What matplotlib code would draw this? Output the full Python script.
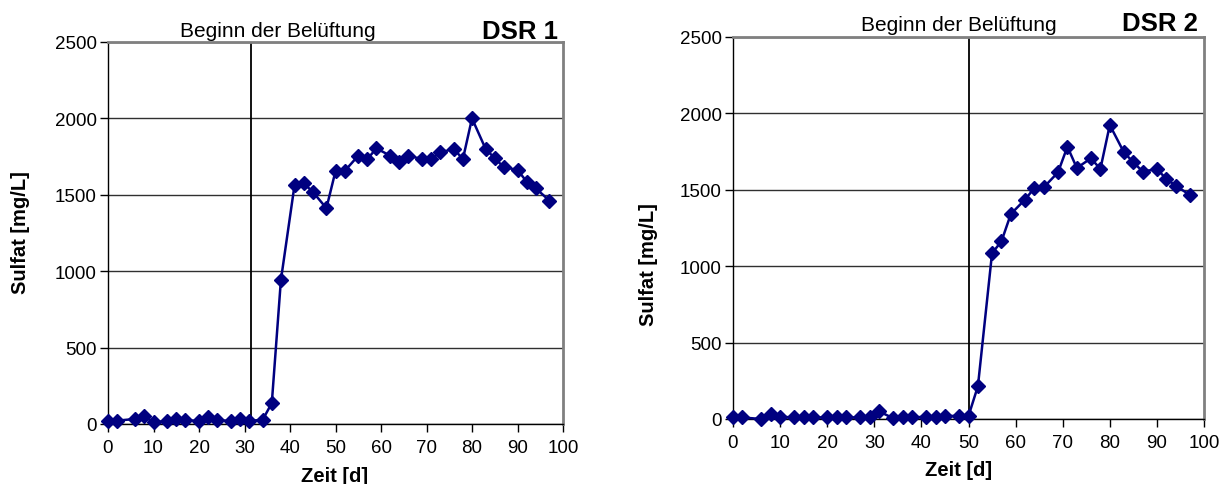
import matplotlib
matplotlib.use("Agg")
import matplotlib.pyplot as plt

plt.rcParams['font.family'] = ['Liberation Sans', 'DejaVu Sans']

# DSR 1 data
days1 = [0, 2, 6, 8, 10, 13, 15, 17, 20, 22, 24, 27, 29, 31, 34, 36, 38, 41, 43, 45, 48,
         50, 52, 55, 57, 59, 62, 64, 66, 69, 71, 73, 76, 78, 80, 83, 85, 87, 90, 92, 94, 97]
sulfat1 = [20, 22, 33, 50, 11, 20, 33, 25, 20, 45, 25, 20, 33, 20, 28, 137, 942, 1564, 1575, 1520, 1412,
           1655, 1655, 1756, 1734, 1804, 1756, 1713, 1756, 1734, 1734, 1778, 1800, 1734, 2000, 1800,
           1739, 1680, 1664, 1586, 1543, 1462]

# DSR 2 data
days2 = [0, 2, 6, 8, 10, 13, 15, 17, 20, 22, 24, 27, 29, 31, 34, 36, 38, 41, 43, 45, 48,
         50, 52, 55, 57, 59, 62, 64, 66, 69, 71, 73, 76, 78, 80, 83, 85, 87, 90, 92, 94, 97]
sulfat2 = [10, 10, 0, 35, 15, 10, 10, 10, 10, 10, 10, 10, 10, 50, 5, 10, 10, 15, 10, 20, 20,
           20, 215, 1085, 1163, 1342, 1436, 1512, 1517, 1614, 1782, 1643, 1706, 1636, 1924, 1745,
           1680, 1619, 1636, 1571, 1527, 1466]

aeration1 = 31.5
aeration2 = 50
xticks = list(range(0, 101, 10))
yticks = list(range(0, 2501, 500))

W, H = 1231, 485
fig = plt.figure(figsize=(W / 100, H / 100), dpi=100)

def box(l, t, r, b):
    return [l / W, 1 - b / H, (r - l) / W, (b - t) / H]

ax1 = fig.add_axes(box(108, 43, 563, 425))
ax2 = fig.add_axes(box(733, 38, 1204, 420))

panels = [
    # ax, x, y, aeration, name, title x, title y, name y, xlabel pos, ylabel pos
    (ax1, days1, sulfat1, aeration1, "DSR 1", 37.4, 1.017, 1.010, (0.499, -0.148), (-0.171, 0.503)),
    (ax2, days2, sulfat2, aeration2, "DSR 2", 48.0, 1.018, 1.018, (0.478, -0.147), (-0.159, 0.406)),
]

for ax, d, s, a, name, tx, ty, ny, xl, yl in panels:
    ax.set_xlim(0, 100)
    ax.set_ylim(0, 2500)
    ax.set_xticks(xticks)
    ax.set_yticks(yticks)
    ax.yaxis.grid(True, color='#303030', linewidth=1.0)
    ax.set_axisbelow(True)
    for sp in ['left', 'bottom']:
        ax.spines[sp].set_color('black')
        ax.spines[sp].set_linewidth(1.0)
    for sp in ['top', 'right']:
        ax.spines[sp].set_color('#808080')
        ax.spines[sp].set_linewidth(2.0)
    ax.tick_params(axis='both', direction='out', length=6, width=1, labelsize=13.5, colors='black')
    ax.tick_params(axis='y', pad=2)
    ax.tick_params(axis='x', pad=5)
    ax.axvline(a, color='black', linewidth=1.3, zorder=2)
    ax.plot(d, s, color='#000080', linewidth=1.8, marker='D', markersize=7.5,
            markeredgecolor='#000080', zorder=3, clip_on=False)
    ax.set_xlabel("Zeit [d]", fontsize=14.5, fontweight='bold')
    ax.xaxis.set_label_coords(*xl)
    ax.xaxis.label.set_verticalalignment('baseline')
    ax.set_ylabel("Sulfat [mg/L]", fontsize=14.5, fontweight='bold')
    ax.yaxis.set_label_coords(*yl)
    ax.text(tx, ty, "Beginn der Belüftung", transform=ax.get_xaxis_transform(),
            ha='center', va='baseline', fontsize=15)
    ax.text(0.988, ny, name, transform=ax.transAxes, ha='right', va='baseline',
            fontsize=18.5, fontweight='bold')

fig.savefig("out.png", dpi=100)
